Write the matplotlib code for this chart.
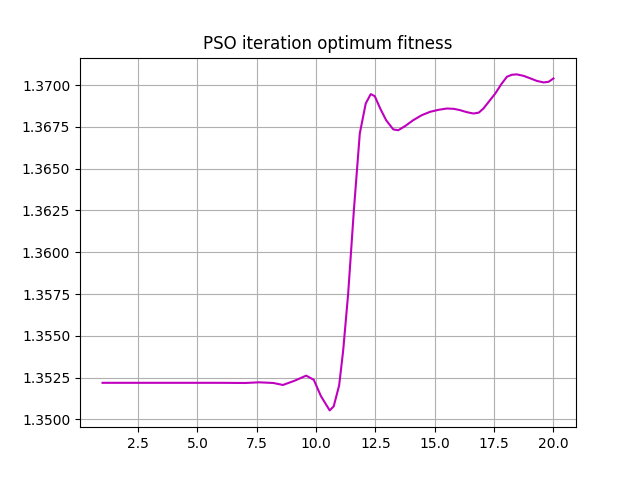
import matplotlib

matplotlib.use("Agg")
import matplotlib.pyplot as plt

# curve (iteration, best fitness)
iterations = [1.0, 2.0, 3.0, 4.0, 5.0, 6.0, 7.0, 7.6, 8.2, 8.6, 9.1, 9.58, 9.9,
              10.2, 10.57, 10.74, 10.97, 11.14, 11.35, 11.59, 11.84, 12.09,
              12.3, 12.47, 12.7, 12.95, 13.25, 13.46, 13.75, 14.09, 14.45,
              14.8, 15.15, 15.51, 15.8, 16.07, 16.35, 16.63, 16.85, 17.05,
              17.3, 17.55, 17.8, 18.04, 18.25, 18.46, 18.75, 19.03, 19.3,
              19.59, 19.8, 20.0]
fitness = [1.35219, 1.35219, 1.35219, 1.35219, 1.35219, 1.35219, 1.35218,
           1.35222, 1.35218, 1.35206, 1.35232, 1.35262, 1.35237,
           1.35140, 1.35054, 1.35078, 1.35204, 1.35413, 1.35753, 1.36251,
           1.36711, 1.36890, 1.36946, 1.36934, 1.36860, 1.36790, 1.36735,
           1.36730, 1.36755, 1.36790, 1.36820, 1.36840, 1.36852, 1.36860,
           1.36858, 1.36850, 1.36838, 1.36830, 1.36835, 1.36860, 1.36905,
           1.36950, 1.37005, 1.37050, 1.37062, 1.37064, 1.37055, 1.37040,
           1.37025, 1.37016, 1.37020, 1.37040]

fig, ax = plt.subplots(figsize=(6.4, 4.8), dpi=100)
ax.plot(iterations, fitness, color="m")
ax.set_title("PSO iteration optimum fitness")
ax.grid(True)
fig.savefig("out.png", dpi=100)
